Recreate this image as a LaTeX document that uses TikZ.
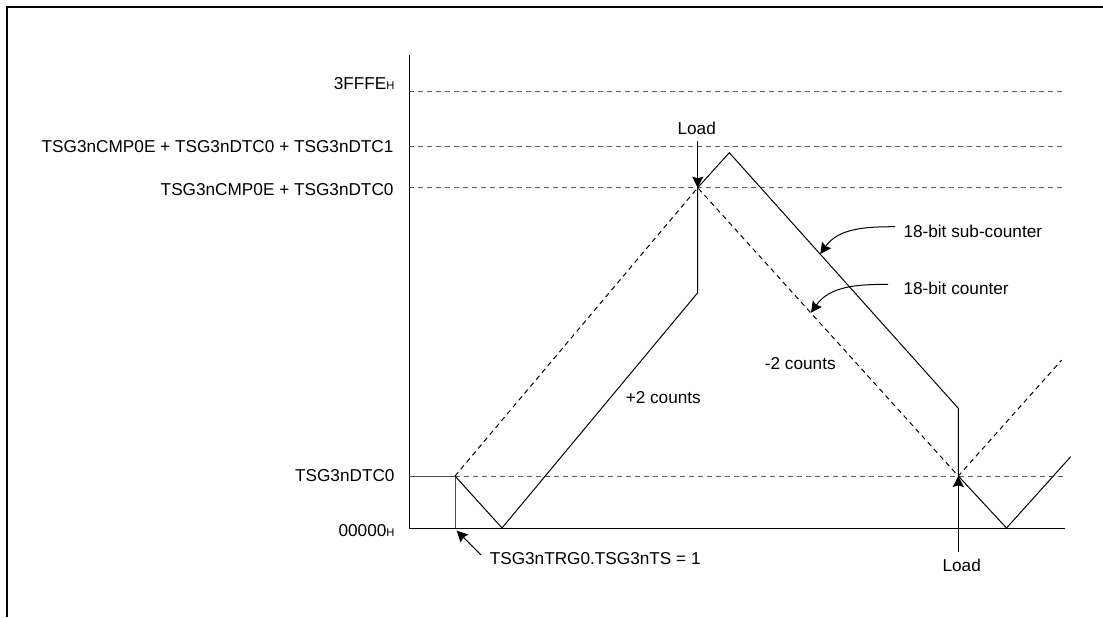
\documentclass[tikz,border=0pt]{standalone}
\usepackage{fontspec}
\setmainfont{Liberation Sans}
\usetikzlibrary{arrows.meta, positioning}
\newcommand{\hsfx}{{\fontsize{5.6}{6}\selectfont H}}

\begin{document}
\begin{tikzpicture}[x=0.5pt, y=-0.5pt, >={Stealth[length=5.5pt,width=5.5pt,inset=0.8pt]},
  font=\fontsize{8.6}{10}\selectfont, line width=0.5pt,
  lvl/.style={dash pattern=on 2.5pt off 2pt, black!65},
  cnt/.style={dash pattern=on 2.5pt off 2pt},
  ylab/.style={anchor=east, inner sep=0pt},
  note/.style={anchor=west, inner sep=0pt}]
  \useasboundingbox (0,0) rectangle (1103,617);
  % frame
  \draw[line width=1pt] (7,617) -- (7,6.5) -- (1103,6.5);
  % axes
  \coordinate (org) at (409,528);
  \draw (409,55) -- (org) -- (1065,528);
  % levels
  \draw[lvl] (409,91.7) -- (1065,91.7);
  \draw[lvl] (409,146.7) -- (1065,146.7);
  \draw[lvl] (409,187.7) -- (1065,187.7);
  \draw[lvl] (455,476) -- (1065,476);
  \node[ylab] (lmax) at (395,84) {3FFFE\hsfx};
  \node[ylab] (lsum2) at (394,146.7) {TSG3nCMP0E + TSG3nDTC0 + TSG3nDTC1};
  \node[ylab] (lsum1) at (394,190) {TSG3nCMP0E + TSG3nDTC0};
  \node[ylab] (ldtc) at (395,476) {TSG3nDTC0};
  \node[ylab] (lzero) at (395,530.5) {00000\hsfx};
  % 18-bit counter (dashed)
  \coordinate (st) at (455,476);
  \coordinate (pk) at (697.7,187.7);
  \coordinate (ld) at (958.3,476);
  \draw[black!70] (409,476) -- (st) -- (455,528);
  \draw[cnt] (st) -- (pk) -- (ld) -- (1061.7,360);
  % 18-bit sub-counter
  \draw (st) -- (502,528) -- (697.7,292.7) -- (pk) -- (729.3,152.7)
    -- (958.3,408.3) -- (ld) -- (1006.5,528) -- (1070.7,456.7);
  \node (up) at (663.3,397.3) {+2 counts};
  \node (dn) at (800.3,363.3) {-2 counts};
  % notes
  \node[note] (subl) at (903,231.7) {18-bit sub-counter};
  \node[note] (cntl) at (903,288.3) {18-bit counter};
  \coordinate (subpt) at (820.3,254);
  \coordinate (cntpt) at (811,312.7);
  \draw[->] ([xshift=-4pt,yshift=2.5pt]subl.west) to[out=180,in=55] (subpt);
  \draw[->] ([xshift=-7.5pt,yshift=2pt]cntl.west) to[out=180,in=55] (cntpt);
  \node[note] (trg) at (489.3,558.3) {TSG3nTRG0.TSG3nTS = 1};
  \coordinate (trgpt) at (456.7,530.7);
  \draw[->] ([xshift=-4pt,yshift=1.6pt]trg.west) -- (trgpt);
  % load marks
  \node[inner sep=3pt] (ldtop) at (696.7,128.3) {Load};
  \node[inner sep=3pt] (ldbot) at (961.7,565) {Load};
  \draw[->, line width=0.75pt] (ldtop.south -| pk) -- (pk);
  \draw[->, line width=0.75pt] (ldbot.north -| ld) -- (ld);
\end{tikzpicture}
\end{document}
